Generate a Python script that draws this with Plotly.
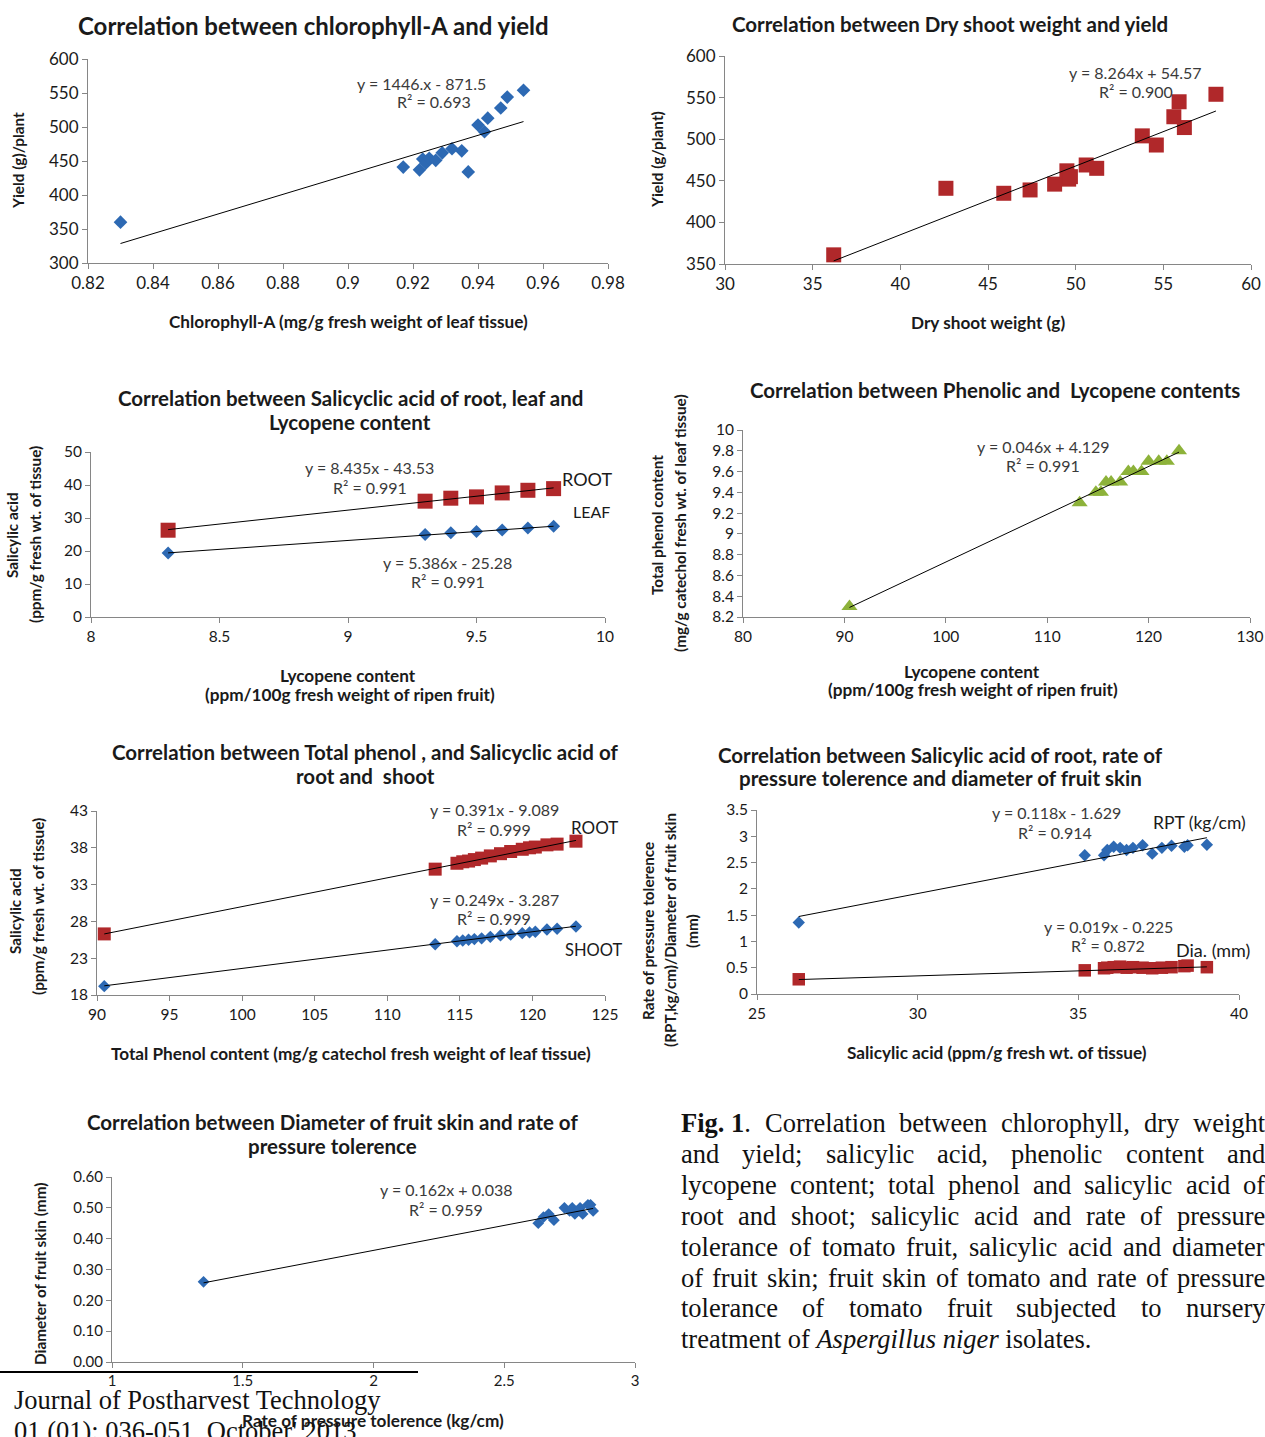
import plotly.graph_objects as go

W, H = 1265, 1437

# ---------------- DATA ----------------
# Panel 1: chlorophyll-A vs yield
chl_x = [0.830, 0.917, 0.922, 0.923, 0.924, 0.925, 0.927, 0.929, 0.932, 0.935, 0.937,
         0.940, 0.942, 0.943, 0.947, 0.949, 0.954]
chl_y = [360, 441, 437, 453, 447, 454, 451, 462, 468, 465, 434, 503, 493, 513, 528, 544, 554]
chl_fit = [1446.0, -871.5]

# Panel 2: dry shoot weight vs yield
dsw_x = [36.2, 42.6, 45.9, 47.4, 48.8, 49.5, 49.6, 49.7, 50.6, 51.2, 53.8, 54.6, 55.6, 55.9, 56.2, 58.0]
dsw_y = [361, 441, 435, 439, 446, 462, 452, 455, 469, 465, 504, 493, 527, 545, 514, 554]
dsw_fit = [8.264, 54.57]

# Panel 3: salicylic acid (root, leaf) vs lycopene
lyc_x = [8.3, 9.3, 9.4, 9.5, 9.6, 9.7, 9.8]
sa_root = [26.3, 35.1, 36.0, 36.4, 37.6, 38.4, 38.9]
sa_leaf = [19.4, 25.0, 25.5, 25.9, 26.4, 27.0, 27.5]
root_fit3 = [8.435, -43.53]
leaf_fit3 = [5.386, -25.28]

# Panel 4: phenolic vs lycopene
ph_x = [90.5, 113.2, 114.8, 115.3, 115.8, 116.3, 117.2, 118.0, 118.5, 119.3, 120.0, 121.0, 121.8, 123.0]
ph_y = [8.3, 9.3, 9.4, 9.4, 9.5, 9.5, 9.5, 9.6, 9.6, 9.6, 9.7, 9.7, 9.7, 9.8]
ph_fit = [0.046, 4.129]

# Panel 5: total phenol vs salicylic acid of root and shoot
tp_x = [90.5, 113.3, 114.8, 115.2, 115.6, 116.0, 116.5, 117.1, 117.8, 118.5, 119.3, 119.8, 120.2,
        121.0, 121.7, 123.0]
tp_root = [26.3, 35.1, 35.9, 36.1, 36.2, 36.4, 36.6, 36.9, 37.2, 37.5, 37.8, 38.0, 38.1, 38.4, 38.5, 38.9]
tp_shoot = [19.2, 24.9, 25.3, 25.4, 25.5, 25.6, 25.7, 25.9, 26.1, 26.2, 26.4, 26.5, 26.6, 26.9, 27.0, 27.3]
root_fit5 = [0.391, -9.089]
shoot_fit5 = [0.249, -3.287]

# Panel 6: salicylic acid of root vs RPT and diameter
sr_x = [26.3, 35.2, 35.8, 35.9, 36.1, 36.3, 36.5, 36.7, 37.0, 37.3, 37.6, 37.9, 38.3, 38.4, 39.0]
rpt_y = [1.36, 2.64, 2.64, 2.74, 2.80, 2.78, 2.74, 2.78, 2.83, 2.67, 2.78, 2.82, 2.80, 2.83, 2.84]
dia_y = [0.28, 0.45, 0.49, 0.50, 0.51, 0.52, 0.50, 0.51, 0.50, 0.49, 0.50, 0.51, 0.53, 0.54, 0.51]
rpt_fit = [0.118, -1.629]
dia_fit = [0.019, -0.225]

# Panel 7: diameter of fruit skin vs RPT
rp_x = [1.35, 2.63, 2.65, 2.67, 2.69, 2.73, 2.75, 2.76, 2.77, 2.78, 2.79, 2.80, 2.82, 2.83, 2.84]
rp_y = [0.26, 0.45, 0.47, 0.48, 0.46, 0.50, 0.49, 0.50, 0.48, 0.49, 0.50, 0.48, 0.51, 0.51, 0.49]
rp_fit = [0.162, 0.038]

# Tick values
p1_xt = [0.82, 0.84, 0.86, 0.88, 0.9, 0.92, 0.94, 0.96, 0.98]
p1_yt = [300, 350, 400, 450, 500, 550, 600]
p2_xt = [30, 35, 40, 45, 50, 55, 60]
p2_yt = [350, 400, 450, 500, 550, 600]
p3_xt = [8, 8.5, 9, 9.5, 10]
p3_yt = [0, 10, 20, 30, 40, 50]
p4_xt = [80, 90, 100, 110, 120, 130]
p4_yt = [8.2, 8.4, 8.6, 8.8, 9, 9.2, 9.4, 9.6, 9.8, 10]
p5_xt = [90, 95, 100, 105, 110, 115, 120, 125]
p5_yt = [18, 23, 28, 33, 38, 43]
p6_xt = [25, 30, 35, 40]
p6_yt = [0, 0.5, 1, 1.5, 2, 2.5, 3, 3.5]
p7_xt = [1, 1.5, 2, 2.5, 3]
p7_yt = [0, 0.1, 0.2, 0.3, 0.4, 0.5, 0.6]

# ---------------- STYLE ----------------
BLUE = "#2d69b3"
RED = "#b0282a"
GREEN = "#8db23a"
AXC = "#868686"
TXT = "#1a1a1a"
EQ = "#3a3a3a"
FONT = "Lato"
SERIF = "Liberation Serif"


def px(x):
    return x / W


def py(y):
    return 1 - y / H


fig = go.Figure()

panels = {
    1: dict(box=(88, 608, 59, 263), xr=[0.82, 0.98], yr=[300, 600], xt=p1_xt, yt=p1_yt, fs=17),
    2: dict(box=(725, 1251, 56, 264), xr=[30, 60], yr=[350, 600], xt=p2_xt, yt=p2_yt, fs=17),
    3: dict(box=(91, 605, 452, 617), xr=[8, 10], yr=[0, 50], xt=p3_xt, yt=p3_yt, fs=15.5),
    4: dict(box=(743, 1250, 430, 617), xr=[80, 130], yr=[8.2, 10], xt=p4_xt, yt=p4_yt, fs=15.5),
    5: dict(box=(97, 605, 811, 995), xr=[90, 125], yr=[18, 43], xt=p5_xt, yt=p5_yt, fs=15.5),
    6: dict(box=(757, 1239, 810, 994), xr=[25, 40], yr=[0, 3.5], xt=p6_xt, yt=p6_yt, fs=15.5),
    7: dict(box=(112, 635, 1177, 1362), xr=[1, 3], yr=[0, 0.6], xt=p7_xt, yt=p7_yt, fs=15),
}

layout_axes = {}
for i, p in panels.items():
    x0, x1, y0, y1 = p["box"]
    sfx = "" if i == 1 else str(i)
    common = dict(showline=True, linecolor=AXC, linewidth=1, ticks="outside", ticklen=5,
                  tickcolor=AXC, showgrid=False, zeroline=False, automargin=False,
                  tickfont=dict(family=FONT, size=p["fs"], color=TXT), tickmode="array")
    xa = dict(common, domain=[px(x0), px(x1)], range=p["xr"], tickvals=p["xt"],
              anchor="y" + sfx)
    ya = dict(common, domain=[py(y1), py(y0)], range=p["yr"], tickvals=p["yt"],
              anchor="x" + sfx)
    if i == 7:
        ya["tickformat"] = ".2f"
    layout_axes["xaxis" + sfx] = xa
    layout_axes["yaxis" + sfx] = ya


def ax(i):
    return ("x", "y") if i == 1 else ("x" + str(i), "y" + str(i))


def scatter(i, xs, ys, color, symbol, size):
    xa, ya = ax(i)
    fig.add_trace(go.Scatter(x=xs, y=ys, mode="markers", xaxis=xa, yaxis=ya,
                             marker=dict(color=color, symbol=symbol, size=size,
                                         line=dict(width=0)),
                             showlegend=False, cliponaxis=False))


def trend(i, xs, fit, dash="solid"):
    xa, ya = ax(i)
    lo, hi = min(xs), max(xs)
    fig.add_trace(go.Scatter(x=[lo, hi], y=[fit[0] * lo + fit[1], fit[0] * hi + fit[1]],
                             mode="lines", xaxis=xa, yaxis=ya,
                             line=dict(color="#000000", width=1, dash=dash),
                             showlegend=False, hoverinfo="skip"))


# Panel 1
scatter(1, chl_x, chl_y, BLUE, "diamond", 10.5)
trend(1, chl_x, chl_fit)
# Panel 2
scatter(2, dsw_x, dsw_y, RED, "square", 15)
trend(2, dsw_x, dsw_fit)
# Panel 3
scatter(3, lyc_x, sa_root, RED, "square", 15)
scatter(3, lyc_x, sa_leaf, BLUE, "diamond", 10)
trend(3, lyc_x, root_fit3)
trend(3, lyc_x, leaf_fit3)
# Panel 4
scatter(4, ph_x, ph_y, GREEN, "triangle-up", 14)
trend(4, ph_x, ph_fit)
# Panel 5
scatter(5, tp_x, tp_root, RED, "square", 13)
scatter(5, tp_x, tp_shoot, BLUE, "diamond", 9.5)
trend(5, tp_x, root_fit5)
trend(5, tp_x, shoot_fit5)
# Panel 6
scatter(6, sr_x, rpt_y, BLUE, "diamond", 9.5)
scatter(6, sr_x, dia_y, RED, "square", 12.5)
trend(6, sr_x, rpt_fit)
trend(6, sr_x, dia_fit)
# Panel 7
scatter(7, rp_x, rp_y, BLUE, "diamond", 9)
trend(7, rp_x, rp_fit)

ann = []


def text(x, y, s, size=14, bold=False, color=TXT, angle=0, family=FONT, xanchor="center"):
    if bold:
        s = "<b>" + s + "</b>"
    ann.append(dict(x=px(x), y=py(y), xref="paper", yref="paper", text=s, showarrow=False,
                    xanchor=xanchor, yanchor="middle", textangle=angle,
                    font=dict(family=family, size=size, color=color)))


# Titles
TS = 20.5
text(313, 25, "Correlation between chlorophyll-A and yield", 24, True)
text(950, 24, "Correlation between Dry shoot weight and yield", TS, True)
text(350, 398, "Correlation between Salicyclic acid of root, leaf and", TS, True)
text(350, 422, "Lycopene content", TS, True)
text(995, 390, "Correlation between Phenolic and  Lycopene contents", TS, True)
text(365, 752, "Correlation between Total phenol , and Salicyclic acid of", TS, True)
text(365, 776, "root and  shoot", TS, True)
text(940, 755, "Correlation between Salicylic acid of root, rate of", TS, True)
text(940, 778, "pressure tolerence and diameter of fruit skin", TS, True)
text(332, 1122, "Correlation between Diameter of fruit skin and rate of", TS, True)
text(332, 1146, "pressure tolerence", TS, True)

# X axis titles
XT = 17.2
text(348, 321, "Chlorophyll-A (mg/g fresh weight of leaf tissue)", XT, True)
text(988, 322, "Dry shoot weight (g)", XT, True)
text(348, 675, "Lycopene content", XT, True)
text(350, 694, "(ppm/100g fresh weight of ripen fruit)", XT, True)
text(972, 671, "Lycopene content", XT, True)
text(973, 690, "(ppm/100g fresh weight of ripen fruit)", XT, True)
text(351, 1053, "Total Phenol content (mg/g catechol fresh weight of leaf tissue)", XT, True)
text(997, 1052, "Salicylic acid (ppm/g fresh wt. of tissue)", XT, True)
text(373, 1420, "Rate of pressure tolerence (kg/cm)", XT, True)

# Y axis titles
YT = 15.3
text(18, 161, "Yield (g)/plant", YT, True, angle=-90)
text(657, 160, "Yield (g/plant)", YT, True, angle=-90)
text(12, 535, "Salicylic acid", YT, True, angle=-90)
text(35, 535, "(ppm/g fresh wt. of tissue)", YT, True, angle=-90)
text(657, 525, "Total phenol content", YT, True, angle=-90)
text(680, 523, "(mg/g catechol fresh wt. of leaf tissue)", YT, True, angle=-90)
text(15, 911, "Salicylic acid", YT, True, angle=-90)
text(38, 907, "(ppm/g fresh wt. of tissue)", YT, True, angle=-90)
text(648, 931, "Rate of pressure tolerence", YT, True, angle=-90)
text(670, 930, "(RPT,kg/cm)/Diameter of fruit skin", YT, True, angle=-90)
text(692, 931, "(mm)", YT, True, angle=-90)
text(40, 1274, "Diameter of fruit skin (mm)", YT, True, angle=-90)

# Equations & labels
ES = 16
text(421, 84, "y = 1446.x - 871.5", ES, color=EQ)
text(434, 101, "R² = 0.693", ES, color=EQ)
text(1135, 72, "y = 8.264x + 54.57", ES, color=EQ)
text(1136, 91, "R² = 0.900", ES, color=EQ)
text(369, 467, "y = 8.435x - 43.53", ES, color=EQ)
text(370, 487, "R² = 0.991", ES, color=EQ)
text(587, 479, "ROOT", 18, color=TXT)
text(591, 511, "LEAF", 16, color=TXT)
text(447, 562, "y = 5.386x - 25.28", ES, color=EQ)
text(448, 581, "R² = 0.991", ES, color=EQ)
text(1043, 446, "y = 0.046x + 4.129", ES, color=EQ)
text(1043, 465, "R² = 0.991", ES, color=EQ)
text(494, 809, "y = 0.391x - 9.089", ES, color=EQ)
text(494, 829, "R² = 0.999", ES, color=EQ)
text(594, 828, "ROOT", 17, color=TXT)
text(494, 899, "y = 0.249x - 3.287", ES, color=EQ)
text(494, 918, "R² = 0.999", ES, color=EQ)
text(593, 950, "SHOOT", 16.5, color=TXT)
text(1056, 812, "y = 0.118x - 1.629", ES, color=EQ)
text(1055, 832, "R² = 0.914", ES, color=EQ)
text(1199, 822, "RPT (kg/cm)", 17.5, color=TXT)
text(1108, 926, "y = 0.019x - 0.225", ES, color=EQ)
text(1108, 945, "R² = 0.872", ES, color=EQ)
text(1213, 950, "Dia. (mm)", 18, color=TXT)
text(446, 1189, "y = 0.162x + 0.038", ES, color=EQ)
text(446, 1209, "R² = 0.959", ES, color=EQ)

# ---------------- Caption (justified) ----------------
# Times (Liberation Serif is metric compatible) advance widths, 1/1000 em
TIMES_R = dict(a=444, b=500, c=444, d=500, e=444, f=333, g=500, h=500, i=278, j=278, k=500,
               l=278, m=778, n=500, o=500, p=500, q=500, r=333, s=389, t=278, u=500, v=500,
               w=722, x=500, y=500, z=444, C=667, F=556)
TIMES_R.update({",": 250, ".": 250, ";": 278, " ": 250, "1": 500})
TIMES_B = {"F": 611, "i": 278, "g": 500, ".": 250, "1": 500}

CAP_FS = 26.5
CAP_X0, CAP_X1 = 679, 1263
CAP_Y0, CAP_DY = 1123, 30.9

caption_lines = [
    [[("Fig.", "b"), (" ", "r"), ("1", "b"), (".", "r")], "Correlation", "between", "chlorophyll,", "dry", "weight"],
    ["and", "yield;", "salicylic", "acid,", "phenolic", "content", "and"],
    ["lycopene", "content;", "total", "phenol", "and", "salicylic", "acid", "of"],
    ["root", "and", "shoot;", "salicylic", "acid", "and", "rate", "of", "pressure"],
    ["tolerance", "of", "tomato", "fruit,", "salicylic", "acid", "and", "diameter"],
    ["of", "fruit", "skin;", "fruit", "skin", "of", "tomato", "and", "rate", "of", "pressure"],
    ["tolerance", "of", "tomato", "fruit", "subjected", "to", "nursery"],
]
last_line = "treatment of <i>Aspergillus niger</i> isolates."


def word_info(w):
    if isinstance(w, str):
        segs = [(w, "r")]
    else:
        segs = w
    width = 0
    markup = ""
    for s, st in segs:
        tbl = TIMES_B if st == "b" else TIMES_R
        width += sum(tbl.get(ch, 500) for ch in s)
        markup += ("<b>" + s + "</b>") if st == "b" else s
    return markup, width * CAP_FS / 1000.0


for k, words in enumerate(caption_lines):
    infos = [word_info(w) for w in words]
    total = sum(wd for _, wd in infos)
    gap = (CAP_X1 - CAP_X0 - total) / (len(infos) - 1)
    xcur = CAP_X0
    yline = CAP_Y0 + k * CAP_DY
    for mk, wd in infos:
        text(xcur, yline, mk, CAP_FS, color="#111111", family=SERIF, xanchor="left")
        xcur += wd + gap
text(CAP_X0, CAP_Y0 + 7 * CAP_DY, last_line, CAP_FS, color="#111111", family=SERIF, xanchor="left")

# Footer
text(12, 1400, "Journal of Postharvest Technology", 26.5, color="#111111", family=SERIF, xanchor="left")
text(12, 1431, "01 (01): 036-051, October' 2013", 26.5, color="#111111", family=SERIF, xanchor="left")

shapes = [dict(type="line", xref="paper", yref="paper", x0=px(0), x1=px(418), y0=py(1372), y1=py(1372),
               line=dict(color="#000000", width=2))]

fig.update_layout(width=W, height=H, margin=dict(l=0, r=0, t=0, b=0, autoexpand=False),
                  paper_bgcolor="white", plot_bgcolor="white", showlegend=False,
                  annotations=ann, shapes=shapes, **layout_axes)

# remove the default page margin / scrollbars so the figure fills the window exactly
PAGE_JS = ("document.body.style.margin='0';"
           "document.documentElement.style.overflow='hidden';"
           "document.body.style.overflow='hidden';")

fig.write_html("out.html", post_script=PAGE_JS, config={"displayModeBar": False})
